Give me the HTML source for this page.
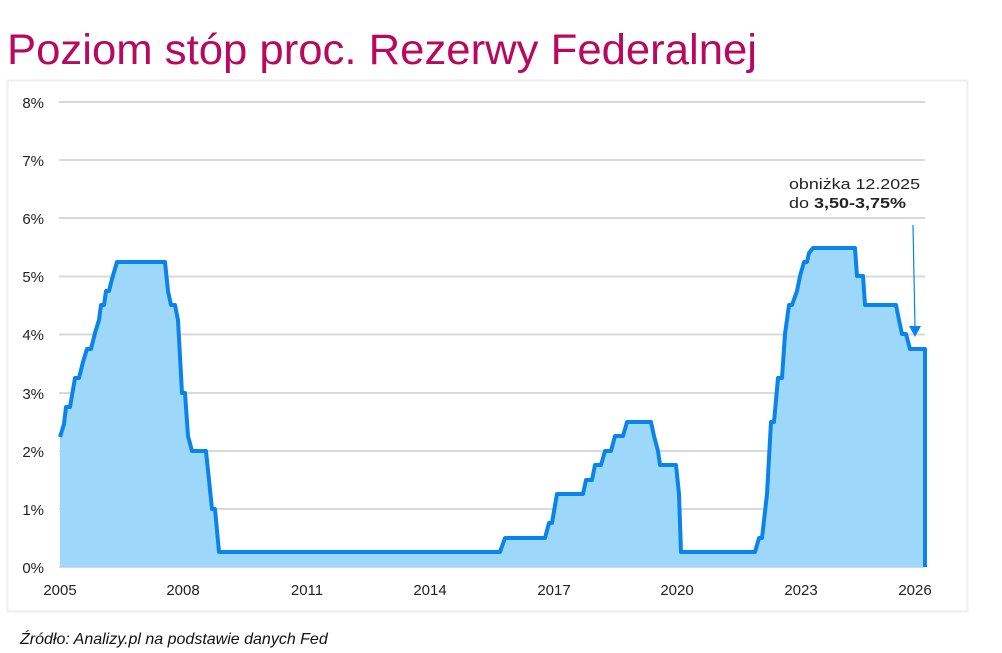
<!DOCTYPE html>
<html><head><meta charset="utf-8"><style>
body{margin:0;width:1002px;height:653px;background:#fff;overflow:hidden;font-family:"Liberation Sans",sans-serif}
</style></head><body>
<svg width="1002" height="653" viewBox="0 0 1002 653" xmlns="http://www.w3.org/2000/svg" style="position:absolute;left:0;top:0">
<text x="7" y="64" font-size="43" fill="#b8095f" font-family="Liberation Sans, sans-serif" textLength="750" lengthAdjust="spacingAndGlyphs">Poziom stóp proc. Rezerwy Federalnej</text>
<rect x="7.5" y="80.5" width="960" height="531" fill="#fff" stroke="#eeeeee" stroke-width="2"/>
<g stroke="#d9d9d9" stroke-width="2">
<line x1="59" x2="925" y1="102" y2="102"/><line x1="59" x2="925" y1="160" y2="160"/>
<line x1="59" x2="925" y1="218" y2="218"/><line x1="59" x2="925" y1="276.5" y2="276.5"/>
<line x1="59" x2="925" y1="334.5" y2="334.5"/><line x1="59" x2="925" y1="393" y2="393"/>
<line x1="59" x2="925" y1="451" y2="451"/><line x1="59" x2="925" y1="509" y2="509"/>
<line x1="59" x2="925" y1="567" y2="567"/>
</g>
<g font-size="15" fill="#222" text-anchor="end">
<text x="44" y="108">8%</text><text x="44" y="166">7%</text><text x="44" y="224">6%</text>
<text x="44" y="282">5%</text><text x="44" y="340">4%</text><text x="44" y="399">3%</text>
<text x="44" y="457">2%</text><text x="44" y="515">1%</text><text x="44" y="573">0%</text>
</g>
<g font-size="15" fill="#222" text-anchor="middle">
<text x="60" y="595">2005</text><text x="183" y="595">2008</text><text x="307" y="595">2011</text>
<text x="430" y="595">2014</text><text x="554" y="595">2017</text><text x="677" y="595">2020</text>
<text x="801" y="595">2023</text><text x="915" y="595">2026</text>
</g>
<polygon fill="#9dd8fa" points="60,567 60,437 64,424 66,407 70,407 75,378 79,378 83,362 87,349 91,349 95,333 99,320 101,305 104,305 106,291 109,291 112,279 117,262 165,262 168,291 171,305 175,305 178,320 182,393 185,393 188,436 192,451 206,451 209,480 212,509 215,509 219,552 500,552 505,538 545,538 549,523 552,523 557,494 583,494 586,480 592,480 595,465 601,465 605,451 611,451 615,436 623,436 627,422 651,422 654,436 658,451 660,465 676,465 679,494 681,552 755,552 759,538 762,538 767,494 771,422 774,422 778,378 782,378 785,334 789,305 792,305 797,291 800,276 804,262 807,262 809,253 813,248 855,248 857,276 863,276 865,305 896,305 899,320 902,334 906,334 910,349 925,349 925,567"/>
<polyline fill="none" stroke="#0b84ea" stroke-width="4" stroke-linejoin="round" points="60,437 64,424 66,407 70,407 75,378 79,378 83,362 87,349 91,349 95,333 99,320 101,305 104,305 106,291 109,291 112,279 117,262 165,262 168,291 171,305 175,305 178,320 182,393 185,393 188,436 192,451 206,451 209,480 212,509 215,509 219,552 500,552 505,538 545,538 549,523 552,523 557,494 583,494 586,480 592,480 595,465 601,465 605,451 611,451 615,436 623,436 627,422 651,422 654,436 658,451 660,465 676,465 679,494 681,552 755,552 759,538 762,538 767,494 771,422 774,422 778,378 782,378 785,334 789,305 792,305 797,291 800,276 804,262 807,262 809,253 813,248 855,248 857,276 863,276 865,305 896,305 899,320 902,334 906,334 910,349 925,349 925,567"/>
<line x1="913" y1="225" x2="915" y2="328" stroke="#0b84ea" stroke-width="1.2"/>
<polygon points="909,326 921,326 915,337" fill="#0b84ea"/>
<text x="789" y="189" font-size="15" fill="#222" textLength="131" lengthAdjust="spacingAndGlyphs">obniżka 12.2025</text>
<text x="789" y="208" font-size="15" fill="#222" textLength="117" lengthAdjust="spacingAndGlyphs">do <tspan font-weight="bold">3,50-3,75%</tspan></text>
<text x="20" y="644" font-size="16" font-style="italic" fill="#111">Źródło: Analizy.pl na podstawie danych Fed</text>
</svg>
</body></html>
